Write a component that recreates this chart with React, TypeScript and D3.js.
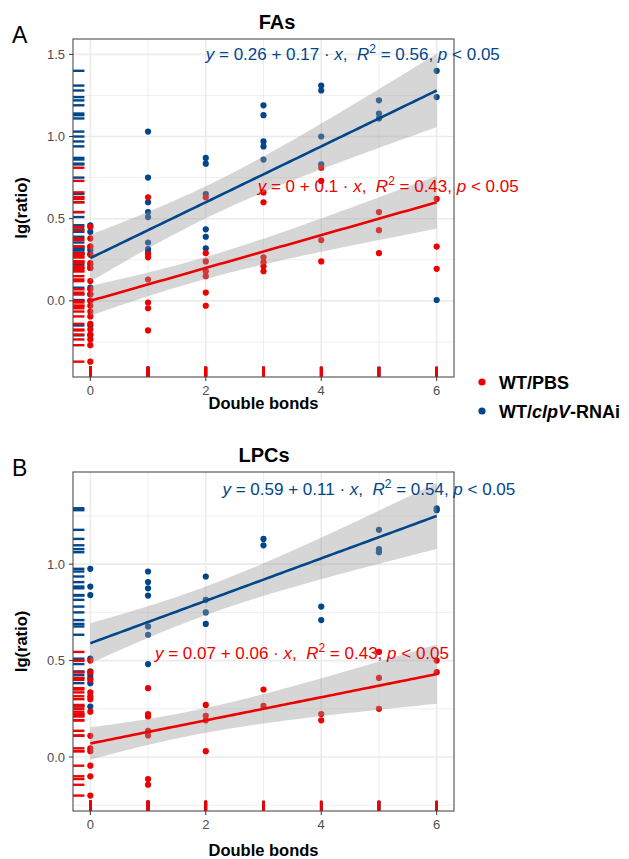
import * as d3 from "d3";

type Pt = [number, number];

// x = number of double bonds, y = lg(ratio)
const doubleBonds = [0, 1, 2, 3, 4, 5, 6];
const groupNames = ["WT/PBS", "WT/clpV-RNAi"];
const groupColors = ["#ED0000", "#00468B"];

// ---- FAs ----
const faPbs: Pt[] = [
  [0, 0.45], [0, 0.38], [0, 0.33], [0, 0.28], [0, 0.23], [0, 0.2], [0, 0.12], [0, 0.07], [0, 0.04], [0, 0.0],
  [0, -0.03], [0, -0.065], [0, -0.095], [0, -0.14], [0, -0.175], [0, -0.205], [0, -0.235], [0, -0.27], [0, -0.37],
  [1, 0.63], [1, 0.285], [1, 0.265], [1, 0.13], [1, -0.01], [1, -0.045], [1, -0.18],
  [2, 0.63], [2, 0.29], [2, 0.24], [2, 0.18], [2, 0.15], [2, 0.05], [2, -0.03],
  [3, 0.66], [3, 0.6], [3, 0.265], [3, 0.235], [3, 0.21], [3, 0.18],
  [4, 0.81], [4, 0.73], [4, 0.37], [4, 0.24],
  [5, 0.54], [5, 0.43], [5, 0.29],
  [6, 0.62], [6, 0.33], [6, 0.195],
];
const faRnai: Pt[] = [
  [0, 0.46], [0, 0.42], [0, 0.33], [0, 0.31], [0, 0.285], [0, 0.22], [0, 0.2], [0, 0.08], [0, 0.04], [0, 0.0],
  [0, -0.15], [0, -0.21],
  [1, 1.03], [1, 0.75], [1, 0.6], [1, 0.54], [1, 0.51], [1, 0.355], [1, 0.315], [1, 0.295],
  [2, 0.87], [2, 0.835], [2, 0.65], [2, 0.435], [2, 0.39], [2, 0.32],
  [3, 1.19], [3, 1.13], [3, 0.97], [3, 0.94], [3, 0.86],
  [4, 1.31], [4, 1.28], [4, 1.0], [4, 0.83],
  [5, 1.22], [5, 1.14], [5, 1.11],
  [6, 1.4], [6, 1.24], [6, 0.005],
];
// intercept, slope, R2 as printed on the figure
const faFitPbs = ["0", "0.1", "0.43"];
const faFitRnai = ["0.26", "0.17", "0.56"];
// label anchor (data units)
const faLabelPbs: Pt = [2.9, 0.7];
const faLabelRnai: Pt = [2.0, 1.5];

// ---- LPCs ----
const lpcPbs: Pt[] = [
  [0, 0.5], [0, 0.44], [0, 0.4], [0, 0.335], [0, 0.315], [0, 0.3], [0, 0.235], [0, 0.11], [0, 0.045], [0, 0.03],
  [0, -0.045], [0, -0.1], [0, -0.2],
  [1, 0.357], [1, 0.223], [1, 0.21], [1, 0.136], [1, 0.112], [1, -0.114], [1, -0.144],
  [2, 0.27], [2, 0.214], [2, 0.19], [2, 0.03],
  [3, 0.35], [3, 0.265],
  [4, 0.223], [4, 0.19],
  [5, 0.545], [5, 0.41], [5, 0.25],
  [6, 0.5], [6, 0.44],
];
const lpcRnai: Pt[] = [
  [0, 0.976], [0, 0.884], [0, 0.84], [0, 0.51], [0, 0.444], [0, 0.426], [0, 0.41], [0, 0.383], [0, 0.262],
  [1, 0.962], [1, 0.907], [1, 0.875], [1, 0.837], [1, 0.677], [1, 0.634], [1, 0.482],
  [2, 0.936], [2, 0.815], [2, 0.75], [2, 0.69],
  [3, 1.131], [3, 1.098],
  [4, 0.78], [4, 0.71],
  [5, 1.178], [5, 1.078], [5, 1.062],
  [6, 1.29], [6, 1.28],
];
const lpcFitPbs = ["0.07", "0.06", "0.43"];
const lpcFitRnai = ["0.59", "0.11", "0.54"];
const lpcLabelPbs: Pt = [1.12, 0.54];
const lpcLabelRnai: Pt = [2.29, 1.39];

const FONT = "'Liberation Sans', Arial, Helvetica, sans-serif";
const LEFT = 73;
const RIGHT = 454;

// confidence band around the printed fit line, width from the points' residuals
function band(pts: Pt[], a: number, b: number) {
  const n = pts.length;
  const xbar = d3.mean(pts, (d) => d[0]) as number;
  const ybar = d3.mean(pts, (d) => d[1]) as number;
  const sxx = d3.sum(pts, (d) => (d[0] - xbar) ** 2);
  const sxy = d3.sum(pts, (d) => (d[0] - xbar) * (d[1] - ybar));
  const b0 = sxy / sxx;
  const a0 = ybar - b0 * xbar;
  const sse = d3.sum(pts, (d) => (d[1] - a0 - b0 * d[0]) ** 2);
  const s = Math.sqrt(sse / (n - 2));
  const t = 1.96 + 2.4 / (n - 2);
  const x0 = d3.min(pts, (d) => d[0]) as number;
  const x1 = d3.max(pts, (d) => d[0]) as number;
  return d3.range(0, 81).map((i) => {
    const x = x0 + ((x1 - x0) * i) / 80;
    const h = t * s * Math.sqrt(1 / n + (x - xbar) ** 2 / sxx);
    return { x, y: a + b * x, lo: a + b * x - h, hi: a + b * x + h };
  });
}

const Equation = (props: any) => {
  const { x, y, color, fit } = props;
  const fs = 17;
  return (
    <text x={x} y={y + fs * 0.35} fill={color} fontSize={fs} fontFamily={FONT} style={{ whiteSpace: "pre" }}>
      <tspan fontStyle="italic">y</tspan>
      <tspan>{` = ${fit[0]} + ${fit[1]} \u00b7 `}</tspan>
      <tspan fontStyle="italic">x</tspan>
      <tspan>{",  "}</tspan>
      <tspan fontStyle="italic">R</tspan>
      <tspan dy={-7} fontSize={12}>2</tspan>
      <tspan dy={7}>{` = ${fit[2]}, `}</tspan>
      <tspan fontStyle="italic">p</tspan>
      <tspan>{" < 0.05"}</tspan>
    </text>
  );
};

const Panel = (props: any) => {
  const { top, bottom, yDomain, pbs, rnai, fitPbs, fitRnai, labelPbs, labelRnai, title, titleX, letter, yTicks, xTitleY } = props;

  const x = d3.scaleLinear().domain([-0.3, 6.3]).range([LEFT, RIGHT]);
  const y = d3.scaleLinear().domain(yDomain).range([bottom, top]);

  const yMinor = d3.range(-0.25, 1.6, 0.5).filter((v) => v > yDomain[0] && v < yDomain[1]);

  const groups = [
    { pts: rnai, fit: fitRnai, color: groupColors[1], label: labelRnai },
    { pts: pbs, fit: fitPbs, color: groupColors[0], label: labelPbs },
  ];

  const area = d3.area<any>().x((d) => x(d.x)).y0((d) => y(d.lo)).y1((d) => y(d.hi));
  const line = d3.line<any>().x((d) => x(d.x)).y((d) => y(d.y));

  const rugW = (RIGHT - LEFT) * 0.03;
  const rugH = (bottom - top) * 0.03;
  const mid = (top + bottom) / 2;

  return (
    <g>
      <text x={12} y={top + 4} fontSize={23} fontFamily={FONT} fill="#000">{letter}</text>
      <text x={titleX} y={top - 10} fontSize={20} fontWeight="bold" fontFamily={FONT} textAnchor="middle" fill="#000">{title}</text>

      {/* grid */}
      {yMinor.map((v: number) => (
        <line key={"ym" + v} x1={LEFT} x2={RIGHT} y1={y(v)} y2={y(v)} stroke="#ebebeb" strokeWidth={0.8} />
      ))}
      {yTicks.map((v: number) => (
        <line key={"yg" + v} x1={LEFT} x2={RIGHT} y1={y(v)} y2={y(v)} stroke="#ebebeb" strokeWidth={1.6} />
      ))}
      {doubleBonds.map((v) => (
        <line key={"xg" + v} x1={x(v)} x2={x(v)} y1={top} y2={bottom} stroke="#ebebeb" strokeWidth={v % 2 === 0 ? 1.6 : 0.8} />
      ))}

      {/* rugs */}
      {groups.map((g) =>
        g.pts.map((d: Pt, i: number) => (
          <line key={g.color + "ry" + i} x1={LEFT} x2={LEFT + rugW} y1={y(d[1])} y2={y(d[1])} stroke={g.color} strokeWidth={2.4} />
        ))
      )}
      {groups.map((g) =>
        g.pts.map((d: Pt, i: number) => (
          <line key={g.color + "rx" + i} x1={x(d[0])} x2={x(d[0])} y1={bottom} y2={bottom - rugH} stroke={g.color} strokeWidth={2.6} />
        ))
      )}

      {/* points */}
      {groups.map((g) =>
        g.pts.map((d: Pt, i: number) => (
          <circle key={g.color + "p" + i} cx={x(d[0])} cy={y(d[1])} r={3.1} fill={g.color} />
        ))
      )}

      {/* smooth */}
      {groups.map((g) => {
        const b = band(g.pts, +g.fit[0], +g.fit[1]);
        return (
          <g key={g.color + "s"}>
            <path d={area(b) as string} fill="#999999" fillOpacity={0.4} />
            <path d={line(b) as string} fill="none" stroke={g.color} strokeWidth={2.6} />
          </g>
        );
      })}

      {/* border */}
      <rect x={LEFT} y={top} width={RIGHT - LEFT} height={bottom - top} fill="none" stroke="#4d4d4d" strokeWidth={1.1} />

      {/* y axis */}
      {yTicks.map((v: number) => (
        <g key={"yt" + v}>
          <line x1={LEFT - 4} x2={LEFT} y1={y(v)} y2={y(v)} stroke="#333" strokeWidth={1} />
          <text x={LEFT - 8} y={y(v) + 4.6} textAnchor="end" fontSize={13} fontFamily={FONT} fill="#4d4d4d">{d3.format(".1f")(v)}</text>
        </g>
      ))}
      {/* x axis */}
      {[0, 2, 4, 6].map((v) => (
        <g key={"xt" + v}>
          <line x1={x(v)} x2={x(v)} y1={bottom} y2={bottom + 4} stroke="#333" strokeWidth={1} />
          <text x={x(v)} y={bottom + 18} textAnchor="middle" fontSize={13} fontFamily={FONT} fill="#4d4d4d">{v}</text>
        </g>
      ))}
      <text x={(LEFT + RIGHT) / 2} y={xTitleY} textAnchor="middle" fontSize={16.5} fontWeight="bold" fontFamily={FONT} fill="#000">Double bonds</text>
      <text transform={`translate(27,${mid}) rotate(-90)`} textAnchor="middle" fontSize={16.5} fontWeight="bold" fontFamily={FONT} fill="#000">lg(ratio)</text>

      {/* equations */}
      {groups.map((g) => (
        <Equation key={g.color + "eq"} x={x(g.label[0])} y={y(g.label[1])} color={g.color} fit={g.fit} />
      ))}
    </g>
  );
};

export default function App() {
  return (
    <div style={{ position: "absolute", left: 0, top: 0 }}>
      <svg width={629} height={859} style={{ display: "block", background: "#fff" }}>
        <Panel
          top={39} bottom={377} yDomain={[-0.4635, 1.5935]} yTicks={[0, 0.5, 1, 1.5]}
          pbs={faPbs} rnai={faRnai} fitPbs={faFitPbs} fitRnai={faFitRnai}
          labelPbs={faLabelPbs} labelRnai={faLabelRnai} title="FAs" titleX={277} letter="A" xTitleY={409}
        />
        <Panel
          top={472} bottom={811} yDomain={[-0.28, 1.478]} yTicks={[0, 0.5, 1]}
          pbs={lpcPbs} rnai={lpcRnai} fitPbs={lpcFitPbs} fitRnai={lpcFitRnai}
          labelPbs={lpcLabelPbs} labelRnai={lpcLabelRnai} title="LPCs" titleX={264} letter="B" xTitleY={856}
        />
        {/* legend */}
        <g fontFamily={FONT} fontWeight="bold" fontSize={18}>
          <circle cx={482} cy={382} r={3.6} fill={groupColors[0]} />
          <text x={499} y={388.5} fill="#000">{groupNames[0]}</text>
          <circle cx={482} cy={411} r={3.6} fill={groupColors[1]} />
          <text x={499} y={417.5} fill="#000">
            WT/<tspan fontStyle="italic">clpV</tspan>-RNAi
          </text>
        </g>
      </svg>
    </div>
  );
}
